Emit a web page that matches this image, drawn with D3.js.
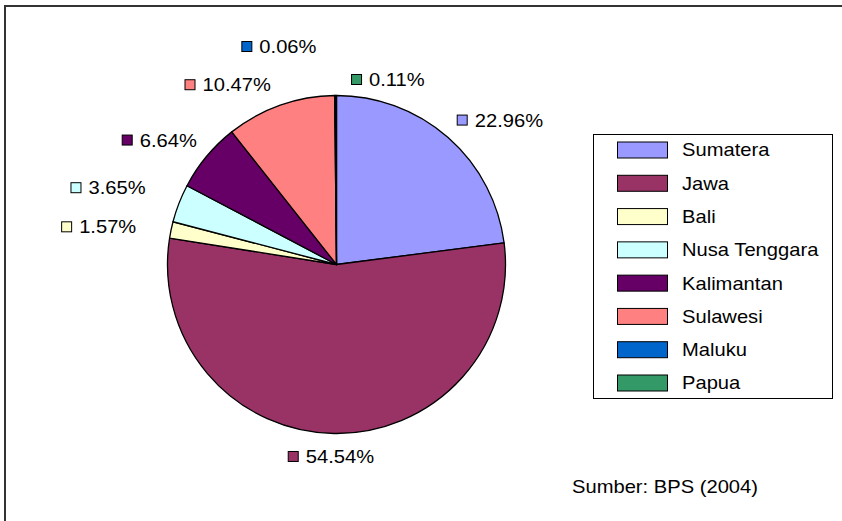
<!DOCTYPE html>
<html><head><meta charset="utf-8">
<script src="https://cdn.jsdelivr.net/npm/d3@7"></script>
<style>
html,body{margin:0;padding:0;background:#fff;}
svg{display:block;}
text{font-family:"Liberation Sans",Arial,sans-serif;}
</style></head>
<body>
<svg id="chart" width="842" height="521"></svg>
<script>
const regions = ["Sumatera","Jawa","Bali","Nusa Tenggara","Kalimantan","Sulawesi","Maluku","Papua"];
const shares = [22.96,54.54,1.57,3.65,6.64,10.47,0.06,0.11];
const colors = ["#9999FF","#993366","#FFFFCC","#CCFFFF","#660066","#FF8080","#0066CC","#339966"];
const sourceNote = "Sumber: BPS (2004)";
// Excel-style overlap adjustments of data labels
const labelNudge = [[2,0],[-3,3],[-25,-1],[-24,-2],[-2,0],[-6,-1],[-56,-29],[52,4]];

const svg = d3.select("#chart");
const FS = 18, SX = 1.12;

// outer frame (runs off the right/bottom edges)
svg.append("rect").attr("x",5).attr("y",6).attr("width",900).attr("height",600)
  .attr("fill","none").attr("stroke","#333").attr("stroke-width",2);

const cx = 336.5, cy = 264.5, r = 169;
const data = regions.map((d,i)=>({name:d,value:shares[i],color:colors[i],i}));
const pie = d3.pie().sort(null).value(d=>d.value);
const arcs = pie(data);
const arc = d3.arc().innerRadius(0).outerRadius(r);

const g = svg.append("g").attr("transform",`translate(${cx},${cy})`);
g.selectAll("path").data(arcs).join("path")
  .attr("d",arc).attr("fill",d=>d.data.color)
  .attr("stroke","#000").attr("stroke-width",1.3).attr("stroke-linejoin","round");

// data labels
const fmt = v => v.toFixed(2) + "%";
const R = r + 10;
arcs.forEach((a,k)=>{
  const mid = (a.startAngle + a.endAngle)/2;
  const s = Math.sin(mid), c = Math.cos(mid);
  const ax = cx + R*s, ay = cy - R*c;
  const lg = svg.append("g");
  const t = lg.append("text").attr("font-size",FS).attr("fill","#000")
    .attr("transform",`translate(18,${FS*0.36}) scale(${SX},1)`).text(fmt(a.data.value));
  const tw = t.node().getComputedTextLength()*SX;
  const w = 18 + tw, h = 20;
  let left, cyl;
  if (Math.abs(s) < 0.1) left = ax - w/2; else if (s > 0) left = ax; else left = ax - w;
  if (Math.abs(c) < 0.3) cyl = ay; else if (c > 0) cyl = ay - h/2; else cyl = ay + h/2;
  left += labelNudge[k][0]; cyl += labelNudge[k][1];
  lg.attr("transform",`translate(${left},${cyl})`);
  lg.insert("rect","text").attr("x",0.5).attr("y",-5).attr("width",10).attr("height",10)
    .attr("fill",a.data.color).attr("stroke","#000").attr("stroke-width",1);
});

// legend
const lx = 593, ly = 134, lw = 239, lh = 264;
svg.append("rect").attr("x",lx+0.5).attr("y",ly+0.5).attr("width",lw).attr("height",lh)
  .attr("fill","#fff").attr("stroke","#000").attr("stroke-width",1);
const rowY = d3.scalePoint().domain(regions).range([150,383]);
const leg = svg.append("g");
regions.forEach((name,i)=>{
  const y = rowY(name);
  leg.append("rect").attr("x",617.5).attr("y",y-8).attr("width",50).attr("height",16)
    .attr("fill",colors[i]).attr("stroke","#000").attr("stroke-width",1);
  leg.append("text").attr("font-size",FS)
    .attr("transform",`translate(682,${y+FS*0.36}) scale(${SX},1)`).text(name);
});

svg.append("text").attr("font-size",FS)
  .attr("transform",`translate(572,${487+FS*0.36}) scale(${SX},1)`).text(sourceNote);
</script>
</body></html>
